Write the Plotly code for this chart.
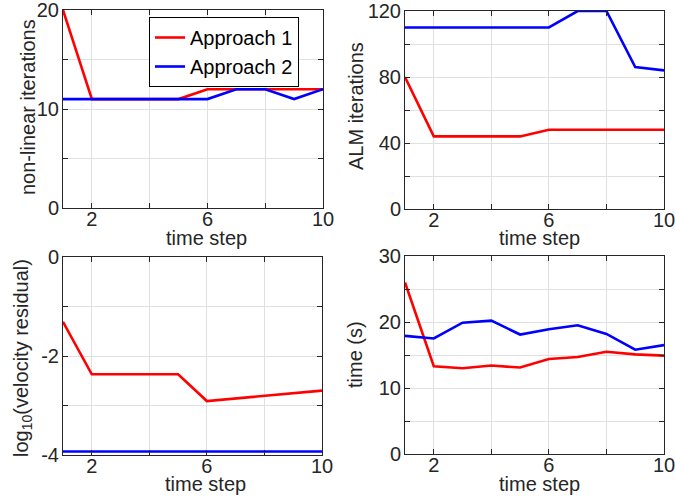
import plotly.graph_objects as go

# Time steps shared by every panel
steps = [1, 2, 3, 4, 5, 6, 7, 8, 9, 10]

# Non-linear iterations per time step
nonlin_a1 = [20, 11, 11, 11, 11, 12, 12, 12, 12, 12]
nonlin_a2 = [11, 11, 11, 11, 11, 11, 12, 12, 11, 12]

# ALM iterations per time step
alm_a1 = [80, 44, 44, 44, 44, 48, 48, 48, 48, 48]
alm_a2 = [110, 110, 110, 110, 110, 110, 120, 120, 86, 84]

# log10 of the velocity residual
resid_a1 = [-1.31, -2.37, -2.37, -2.37, -2.37, -2.91, -2.86, -2.81, -2.75, -2.70]
resid_a2 = [-3.93, -3.93, -3.93, -3.93, -3.93, -3.93, -3.93, -3.93, -3.93, -3.93]

# Wall-clock time in seconds
time_a1 = [26.0, 13.3, 13.0, 13.4, 13.1, 14.4, 14.7, 15.5, 15.1, 14.9]
time_a2 = [17.9, 17.5, 19.9, 20.2, 18.1, 18.9, 19.5, 18.2, 15.8, 16.5]

series_names = ["Approach 1", "Approach 2"]
colors = ["#ff0000", "#0000ff"]

x_label = "time step"
x_tickvals = [2, 6, 10]
x_ticktext = ["2", "6", "10"]

panels = [
    dict(a1=nonlin_a1, a2=nonlin_a2, title="non-linear iterations", rng=[0, 20],
         tickvals=[0, 10, 20], ticktext=["0", "10", "20"], minor=5),
    dict(a1=alm_a1, a2=alm_a2, title="ALM iterations", rng=[0, 120],
         tickvals=[0, 40, 80, 120], ticktext=["0", "40", "80", "120"], minor=20),
    dict(a1=resid_a1, a2=resid_a2, title="log<sub>10</sub>(velocity residual)", rng=[-4, 0],
         tickvals=[-4, -2, 0], ticktext=["-4", "-2", "0"], minor=1),
    dict(a1=time_a1, a2=time_a2, title="time (s)", rng=[0, 30],
         tickvals=[0, 10, 20, 30], ticktext=["0", "10", "20", "30"], minor=5),
]

W, H = 675, 497
# plot-area rectangles in pixels: (left, right, top, bottom)
boxes = [(63, 323, 10, 208), (405, 664, 11, 209), (63, 322, 257, 455), (405, 664, 256, 454)]
# centres of the x-axis titles and y-axis titles in pixels
xtitle_pos = [(206, 238), (539, 238), (205, 484), (539, 484)]
ytitle_pos = [(28, 107), (356, 106), (22, 358), (355, 355)]

FONT = "Liberation Sans, Arial, Helvetica, sans-serif"
TXT = "#262626"
GRID = "#e0e0e0"
FS = 20

fig = go.Figure()
annotations = []
layout = dict(
    width=W, height=H,
    margin=dict(l=0, r=0, t=0, b=0, autoexpand=False),
    paper_bgcolor="white", plot_bgcolor="white",
    font=dict(family=FONT, size=FS, color=TXT),
    showlegend=True,
    legend=dict(x=149 / W, y=1 - 17 / H, xanchor="left", yanchor="top",
                bgcolor="white", bordercolor="#000000", borderwidth=1,
                font=dict(size=20, color="#000000"), tracegroupgap=0,
                itemwidth=30),
)

for i, p in enumerate(panels):
    k = "" if i == 0 else str(i + 1)
    l, r, t, b = boxes[i]
    for j, (ys, name) in enumerate(((p["a1"], series_names[0]), (p["a2"], series_names[1]))):
        fig.add_trace(go.Scatter(
            x=steps, y=ys, mode="lines", name=name,
            line=dict(color=colors[j], width=2.6),
            xaxis="x" + k, yaxis="y" + k,
            showlegend=(i == 0),
        ))
    common = dict(showline=True, linecolor=TXT, linewidth=1, mirror="ticks",
                  ticks="inside", ticklen=5, tickcolor=TXT, showgrid=True,
                  gridcolor=GRID, gridwidth=1, zeroline=False, automargin=False,
                  ticklabeloverflow="allow",
                  tickfont=dict(size=FS, color=TXT))
    layout["xaxis" + k] = dict(
        domain=[l / W, r / W], anchor="y" + k, range=[1, 10],
        tickmode="array", tickvals=x_tickvals, ticktext=x_ticktext,
        ticklabelstandoff=-7,
        minor=dict(tick0=0, dtick=2, ticks="inside", ticklen=5, tickcolor=TXT,
                   showgrid=True, gridcolor=GRID, gridwidth=1),
        **common)
    layout["yaxis" + k] = dict(
        domain=[1 - b / H, 1 - t / H], anchor="x" + k, range=p["rng"],
        tickmode="array", tickvals=p["tickvals"], ticktext=p["ticktext"],
        ticklabelstandoff=-1,
        minor=dict(tick0=0, dtick=p["minor"], ticks="inside", ticklen=5, tickcolor=TXT,
                   showgrid=True, gridcolor=GRID, gridwidth=1),
        **common)
    xt, yt = xtitle_pos[i]
    annotations.append(dict(text=x_label, x=xt / W, y=1 - yt / H, xref="paper", yref="paper",
                            xanchor="center", yanchor="middle", showarrow=False,
                            font=dict(size=FS, color=TXT)))
    xt, yt = ytitle_pos[i]
    annotations.append(dict(text=p["title"], x=xt / W, y=1 - yt / H, xref="paper", yref="paper",
                            xanchor="center", yanchor="middle", showarrow=False, textangle=-90,
                            font=dict(size=FS, color=TXT)))

layout["annotations"] = annotations
fig.update_layout(**layout)
fig.write_html("out.html")
